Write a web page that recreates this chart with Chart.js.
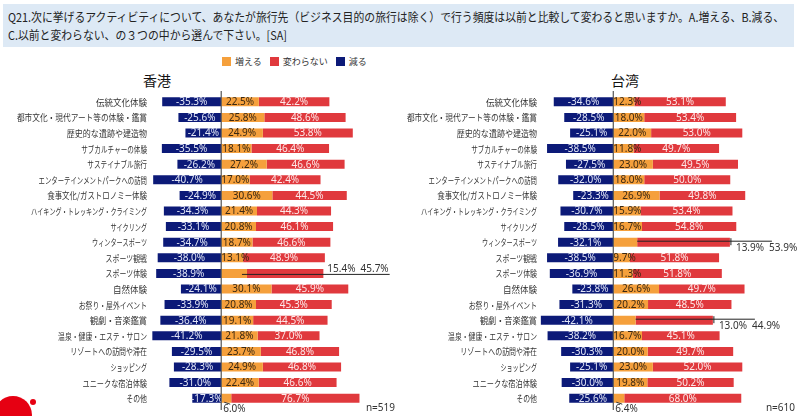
<!DOCTYPE html>
<html lang="ja">
<head>
<meta charset="utf-8">
<script src="https://cdn.jsdelivr.net/npm/chart.js@4.4.1/dist/chart.umd.min.js"></script>
<style>
    body { margin: 0; width: 800px; height: 416px; background: #fff; position: relative; overflow: hidden; font-family: 'Noto Sans CJK JP', sans-serif; color: #333; }
    .titulo { position: absolute; left: 3px; top: 4px; width: 791px; height: 43px; background: #dde9f5; font-size: 12px; line-height: 18px; padding: 4px 0 0 5px; box-sizing: border-box; white-space: nowrap; color: #222; }
    .titulo span { display: inline-block; transform-origin: 0 0; }
    .legenda { position: absolute; top: 55px; left: 222px; font-size: 9px; display: flex; align-items: center; }
    .legenda span.caixa { display: inline-block; width: 9px; height: 9px; margin-right: 4px; }
    .legenda span.texto { margin-right: 8px; }
    .regiao { position: absolute; top: 70px; font-size: 14px; color: #111; width: 80px; text-align: center; }
    .amostra { position: absolute; top: 400px; font-family: 'Noto Sans', sans-serif; font-size: 10px; color: #333; text-align: right; width: 60px; }
    canvas { position: absolute; top: 0; }
    .logo { position: absolute; left: -6px; top: 396px; width: 38px; height: 38px; border-radius: 50%; background: #e60012; }
    .logo2 { position: absolute; left: 30px; top: 399px; width: 6px; height: 6px; border-radius: 50%; background: #e60012; }
</style>
</head>
<body>
<div class="titulo"><span id="tituloTexto"></span></div>
<div class="legenda" id="legenda"></div>
<div class="regiao" id="regiaoHK" style="left:117px;"></div>
<div class="regiao" id="regiaoTW" style="left:585px;"></div>
<canvas id="graficoHK" width="400" height="416" style="left:0px;"></canvas>
<canvas id="graficoTW" width="400" height="416" style="left:400px;"></canvas>
<div class="amostra" id="amostraHK" style="left:335px;"></div>
<div class="amostra" id="amostraTW" style="left:735px;"></div>
<div class="logo"></div>
<div class="logo2"></div>
<script>
const titulo = [
    'Q21.次に挙げるアクティビティについて、あなたが旅行先（ビジネス目的の旅行は除く）で行う頻度は以前と比較して変わると思いますか。A.増える、B.減る、',
    'C.以前と変わらない、の３つの中から選んで下さい。[SA]'
];

const categorias = [
    '伝統文化体験',
    '都市文化・現代アート等の体験・鑑賞',
    '歴史的な遺跡や建造物',
    'サブカルチャーの体験',
    'サステイナブル旅行',
    'エンターテインメントパークへの訪問',
    '食事文化/ガストロノミー体験',
    'ハイキング・トレッキング・クライミング',
    'サイクリング',
    'ウィンタースポーツ',
    'スポーツ観戦',
    'スポーツ体験',
    '自然体験',
    'お祭り・屋外イベント',
    '観劇・音楽鑑賞',
    '温泉・健康・エステ・サロン',
    'リゾートへの訪問や滞在',
    'ショッピング',
    'ユニークな宿泊体験',
    'その他'
];

const series = ['増える', '変わらない', '減る'];
const regioes = ['香港', '台湾'];
const amostras = ['n=519', 'n=610'];

const hkAumenta = [22.5, 25.8, 24.9, 18.1, 27.2, 17.0, 30.6, 21.4, 20.8, 18.7, 13.1, 15.4, 30.1, 20.8, 19.1, 21.8, 23.7, 24.9, 22.4, 6.0];
const hkIgual = [42.2, 48.6, 53.8, 46.4, 46.6, 42.4, 44.5, 44.3, 46.1, 46.6, 48.9, 45.7, 45.9, 45.3, 44.5, 37.0, 46.8, 46.8, 46.6, 76.7];
const hkDiminui = [-35.3, -25.6, -21.4, -35.5, -26.2, -40.7, -24.9, -34.3, -33.1, -34.7, -38.0, -38.9, -24.1, -33.9, -36.4, -41.2, -29.5, -28.3, -31.0, -17.3];

const twAumenta = [12.3, 18.0, 22.0, 11.8, 23.0, 18.0, 26.9, 15.9, 16.7, 13.9, 9.7, 11.3, 26.6, 20.2, 13.0, 16.7, 20.0, 23.0, 19.8, 6.4];
const twIgual = [53.1, 53.4, 53.0, 49.7, 49.5, 50.0, 49.8, 53.4, 54.8, 53.9, 51.8, 51.8, 49.7, 48.5, 44.9, 45.1, 49.7, 52.0, 50.2, 68.0];
const twDiminui = [-34.6, -28.5, -25.1, -38.5, -27.5, -32.0, -23.3, -30.7, -28.5, -32.1, -38.5, -36.9, -23.8, -31.3, -42.1, -38.2, -30.3, -25.1, -30.0, -25.6];

const cores = ['#f5a03c', '#e0393d', '#0c1a78'];
const coresTexto = ['#3a2812', '#fde8e8', '#e2e6f6'];

function formatar(v) {
    return v.toFixed(1) + '%';
}

// nomes das categorias: kana mais estreitos que kanji, como na fonte original
function desenharCategorias(chart) {
    const ctx = chart.ctx;
    const eixo = chart.scales.y;
    ctx.save();
    ctx.font = "9px 'Noto Sans CJK JP', sans-serif";
    ctx.fillStyle = '#333';
    ctx.textAlign = 'right';
    ctx.textBaseline = 'middle';
    categorias.forEach((cat, i) => {
        const y = eixo.getPixelForValue(i);
        let alvo = 0;
        for (const c of cat) {
            alvo += /[\u4e00-\u9fff]/.test(c) ? 8.5 : 6.1;
        }
        const medida = ctx.measureText(cat).width;
        const f = Math.min(1, alvo / medida);
        ctx.save();
        ctx.translate(eixo.right - 3, y + 0.5);
        ctx.scale(f, 1);
        ctx.fillText(cat, 0, 0);
        ctx.restore();
    });
    ctx.restore();
}

// rótulos dentro das barras, com chamadas para as barras curtas
const rotulosPlugin = {
    id: 'rotulos',
    afterDatasetsDraw(chart, args, opts) {
        const ctx = chart.ctx;
        const area = chart.chartArea;
        const fora = opts.fora || {};
        const abaixo = opts.abaixo || [];
        desenharCategorias(chart);
        ctx.save();
        ctx.font = "10px 'Noto Sans', sans-serif";
        ctx.textBaseline = 'middle';
        chart.data.datasets.forEach((ds, d) => {
            const meta = chart.getDatasetMeta(d);
            meta.data.forEach((bar, i) => {
                const cat = categorias[i];
                if (d < 2 && fora[cat]) return;
                if (d === 0 && abaixo.includes(cat)) return;
                const texto = formatar(ds.data[i]);
                const w = ctx.measureText(texto).width;
                ctx.fillStyle = coresTexto[d];
                if (d === 0 && w > Math.abs(bar.x - bar.base) - 2) {
                    ctx.textAlign = 'left';
                    ctx.fillText(texto, bar.base, bar.y + 0.5);
                } else {
                    ctx.textAlign = 'center';
                    ctx.fillText(texto, (bar.x + bar.base) / 2, bar.y + 0.5);
                }
            });
        });

        ctx.strokeStyle = '#222';
        ctx.lineWidth = 1;
        const mInc = chart.getDatasetMeta(0);
        const mIgual = chart.getDatasetMeta(1);
        Object.keys(fora).forEach(cat => {
            const i = categorias.indexOf(cat);
            const inc = mInc.data[i];
            const igual = mIgual.data[i];
            const t1 = formatar(chart.data.datasets[0].data[i]);
            const t2 = formatar(chart.data.datasets[1].data[i]);
            const w1 = ctx.measureText(t1).width;
            const w2 = ctx.measureText(t2).width;
            ctx.fillStyle = '#333';
            ctx.textAlign = 'left';
            if (fora[cat] === 'acima') {
                const xt = igual.x + 4;
                const fim = xt + w1 + 5 + w2 + 1;
                ctx.beginPath();
                ctx.moveTo(inc.x - 5, inc.y + 1);
                ctx.lineTo(fim, inc.y + 1);
                ctx.stroke();
                ctx.fillText(t1, xt, inc.y - 4);
                ctx.fillText(t2, xt + w1 + 5, inc.y - 4);
            } else {
                const xt = igual.x + 6;
                ctx.beginPath();
                ctx.moveTo(inc.x, inc.y - 1);
                ctx.lineTo(igual.x + 42, inc.y - 1);
                ctx.stroke();
                ctx.beginPath();
                ctx.moveTo(igual.x + 1, inc.y - 4);
                ctx.lineTo(igual.x + 1, inc.y + 3);
                ctx.stroke();
                ctx.fillText(t1, xt, inc.y + 6);
                ctx.fillText(t2, xt + w1 + 5, inc.y + 6);
            }
        });

        abaixo.forEach(cat => {
            const i = categorias.indexOf(cat);
            const inc = mInc.data[i];
            const base = inc.base;
            ctx.strokeStyle = '#333';
            ctx.beginPath();
            ctx.moveTo(base + 3, inc.y + 4);
            ctx.lineTo(base + 9, inc.y + 6);
            ctx.stroke();
            ctx.fillStyle = '#333';
            ctx.textAlign = 'left';
            ctx.fillText(formatar(chart.data.datasets[0].data[i]), base + 2, inc.y + 11);
        });

        // linha do zero
        const x0 = chart.scales.x.getPixelForValue(0);
        ctx.strokeStyle = '#555';
        ctx.lineWidth = 1.2;
        ctx.beginPath();
        ctx.moveTo(x0, area.top - 3);
        ctx.lineTo(x0, area.bottom + 4);
        ctx.stroke();
        ctx.restore();
    }
};

function criarGrafico(id, aumenta, igual, diminui, larguraEixo, paddingDireita, fora, abaixo) {
    const ctx = document.getElementById(id).getContext('2d');
    return new Chart(ctx, {
        type: 'bar',
        data: {
            labels: categorias,
            datasets: [
                { label: series[0], data: aumenta, backgroundColor: cores[0] },
                { label: series[1], data: igual, backgroundColor: cores[1] },
                { label: series[2], data: diminui, backgroundColor: cores[2] }
            ]
        },
        options: {
            indexAxis: 'y',
            responsive: false,
            animation: false,
            barPercentage: 0.58,
            categoryPercentage: 1.0,
            layout: { padding: { top: 94, bottom: 10, left: 0, right: paddingDireita } },
            plugins: {
                legend: { display: false },
                tooltip: { enabled: false },
                rotulos: { fora: fora, abaixo: abaixo }
            },
            scales: {
                x: {
                    stacked: true,
                    display: false,
                    min: -42.6,
                    max: 100
                },
                y: {
                    stacked: true,
                    grid: { display: false, drawTicks: false },
                    border: { display: false },
                    afterFit: function(scale) { scale.width = larguraEixo; },
                    ticks: { display: false, autoSkip: false }
                }
            }
        },
        plugins: [rotulosPlugin]
    });
}

function montarLegenda() {
    const legenda = document.getElementById('legenda');
    series.forEach((nome, i) => {
        const caixa = document.createElement('span');
        caixa.className = 'caixa';
        caixa.style.background = cores[i];
        const texto = document.createElement('span');
        texto.className = 'texto';
        texto.textContent = nome;
        legenda.appendChild(caixa);
        legenda.appendChild(texto);
    });
}

document.addEventListener("DOMContentLoaded", function() {
    const el = document.getElementById('tituloTexto');
    el.appendChild(document.createTextNode(titulo[0]));
    el.appendChild(document.createElement('br'));
    el.appendChild(document.createTextNode(titulo[1]));
    // ajusta a largura da primeira linha ao quadro
    const larg = el.offsetWidth;
    const alvo = 776;
    el.style.transform = 'scaleX(' + Math.min(1, alvo / larg).toFixed(3) + ')';

    montarLegenda();
    document.getElementById('regiaoHK').textContent = regioes[0];
    document.getElementById('regiaoTW').textContent = regioes[1];
    document.getElementById('amostraHK').textContent = amostras[0];
    document.getElementById('amostraTW').textContent = amostras[1];
    criarGrafico('graficoHK', hkAumenta, hkIgual, hkDiminui, 150, 11.6, { 'スポーツ体験': 'acima' }, ['その他']);
    criarGrafico('graficoTW', twAumenta, twIgual, twDiminui, 140, 14.7, { 'ウィンタースポーツ': 'abaixo', '観劇・音楽鑑賞': 'abaixo' }, ['その他']);
});
</script>
</body>
</html>
